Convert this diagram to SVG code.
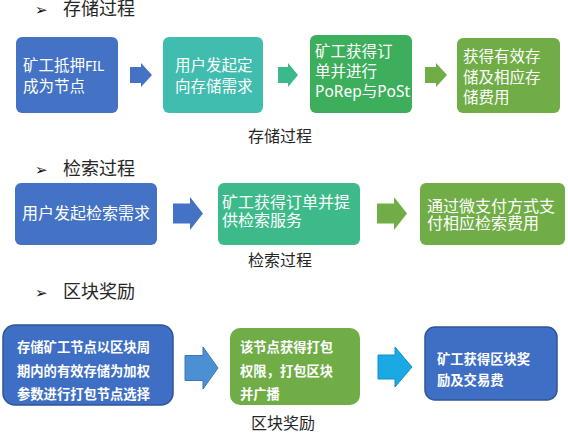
<svg xmlns="http://www.w3.org/2000/svg" width="568" height="436" viewBox="0 0 568 436">
<style>
.bg{fill:#ffffff}
.hd{font-family:"Liberation Serif","Noto Sans CJK SC",serif;font-size:18px;fill:#262626}
.bul{font-family:"DejaVu Sans",sans-serif;font-size:15px;fill:#111}
.cap{font-family:"Liberation Serif","Noto Sans CJK SC",serif;font-size:16px;fill:#262626;text-anchor:middle}
.t{font-family:"Liberation Serif","Noto Sans CJK SC",serif;font-size:15.5px;fill:#ffffff}
.t2{font-family:"Liberation Serif","Noto Sans CJK SC",serif;font-size:16px;fill:#ffffff}
.t3{font-family:"Liberation Serif","Noto Sans CJK SC",serif;font-size:13.3px;fill:#ffffff;font-weight:bold}
.sans{font-family:"Noto Sans","Noto Sans CJK SC",sans-serif}
.blue{fill:#4472c4}
.teal{fill:#41bdb0}
.green{fill:#3dae5c}
.lgreen{fill:#70ad47}
.tgreen{fill:#3dba8a}
.b3{fill:#3f6fc4;stroke:#2e5597;stroke-width:1.5}
</style>
<rect class="bg" x="0" y="0" width="568" height="436"/>

<g id="heading-storage">
<text class="bul" x="35" y="15">➢</text>
<text class="hd" x="63" y="15">存储过程</text>
</g>
<g id="heading-retrieval">
<text class="bul" x="35" y="175">➢</text>
<text class="hd" x="63" y="175">检索过程</text>
</g>
<g id="heading-reward">
<text class="bul" x="35" y="298">➢</text>
<text class="hd" x="63" y="298">区块奖励</text>
</g>

<g id="connectors">
<polygon class="blue" points="130,67 141,67 141,63 152,75 141,87 141,83 130,83"/>
<polygon fill="#3cb98a" points="278,67 288,67 288,63 298,75 288,87 288,83 278,83"/>
<polygon class="lgreen" points="425,67 436,67 436,63 447,75 436,87 436,83 425,83"/>
<polygon class="blue" points="173,203.5 190,203.5 190,197 203,213.5 190,230 190,223.5 173,223.5"/>
<polygon class="lgreen" points="377,203.5 394,203.5 394,197 407,213.5 394,230 394,223.5 377,223.5"/>
<polygon fill="#4a90d2" stroke="#3a78b8" stroke-width="1" points="185,355.5 203,355.5 203,347 218,368 203,389 203,380.5 185,380.5"/>
<polygon fill="#1aa9e2" stroke="#1590c4" stroke-width="1" points="378,355 395,355 395,347 412,367 395,387 395,379 378,379"/>
</g>

<g id="s1">
<rect class="blue" x="16" y="37" width="102" height="76" rx="6"/>
<text class="t" x="23" y="71">矿工抵押<tspan class="sans" font-size="14">FIL</tspan></text>
<text class="t" x="23" y="92">成为节点</text>
</g>
<g id="s2">
<rect class="teal" x="163" y="37" width="100" height="76" rx="6"/>
<text class="t" x="175" y="71">用户发起定</text>
<text class="t" x="175" y="92">向存储需求</text>
</g>
<g id="s3">
<rect class="green" x="310" y="35" width="102" height="78" rx="6"/>
<text class="t" x="315" y="57">矿工获得订</text>
<text class="t" x="315" y="77">单并进行</text>
<text class="t sans" x="315" y="97" font-size="13">PoRep与PoSt</text>
</g>
<g id="s4">
<rect class="lgreen" x="457" y="38" width="103" height="75" rx="6"/>
<text class="t" x="463" y="62">获得有效存</text>
<text class="t" x="463" y="83">储及相应存</text>
<text class="t" x="463" y="103">储费用</text>
</g>
<text class="cap" x="280" y="142">存储过程</text>

<g id="r1">
<rect class="blue" x="15" y="183" width="142" height="62" rx="6"/>
<text class="t2" x="22" y="219">用户发起检索需求</text>
</g>
<g id="r2">
<rect class="tgreen" x="218" y="183" width="142" height="62" rx="6"/>
<text class="t2" x="222" y="208">矿工获得订单并提</text>
<text class="t2" x="222" y="226">供检索服务</text>
</g>
<g id="r3">
<rect class="lgreen" x="420" y="183" width="145" height="62" rx="6"/>
<text class="t2" x="427" y="212">通过微支付方式支</text>
<text class="t2" x="427" y="229">付相应检索费用</text>
</g>
<text class="cap" x="280" y="266">检索过程</text>

<g id="b1">
<rect class="b3" x="3" y="325" width="170" height="80" rx="12"/>
<text class="t3" x="17" y="352">存储矿工节点以区块周</text>
<text class="t3" x="17" y="376">期内的有效存储为加权</text>
<text class="t3" x="17" y="399">参数进行打包节点选择</text>
</g>
<g id="b2">
<rect class="lgreen" x="230" y="328" width="130" height="77" rx="10"/>
<text class="t3" x="240" y="352">该节点获得打包</text>
<text class="t3" x="240" y="376">权限，打包区块</text>
<text class="t3" x="240" y="399">并广播</text>
</g>
<g id="b3">
<rect class="b3" x="425" y="327" width="132" height="73" rx="10"/>
<text class="t3" x="437" y="364">矿工获得区块奖</text>
<text class="t3" x="437" y="385">励及交易费</text>
</g>
<text class="cap" x="283" y="429">区块奖励</text>
</svg>
